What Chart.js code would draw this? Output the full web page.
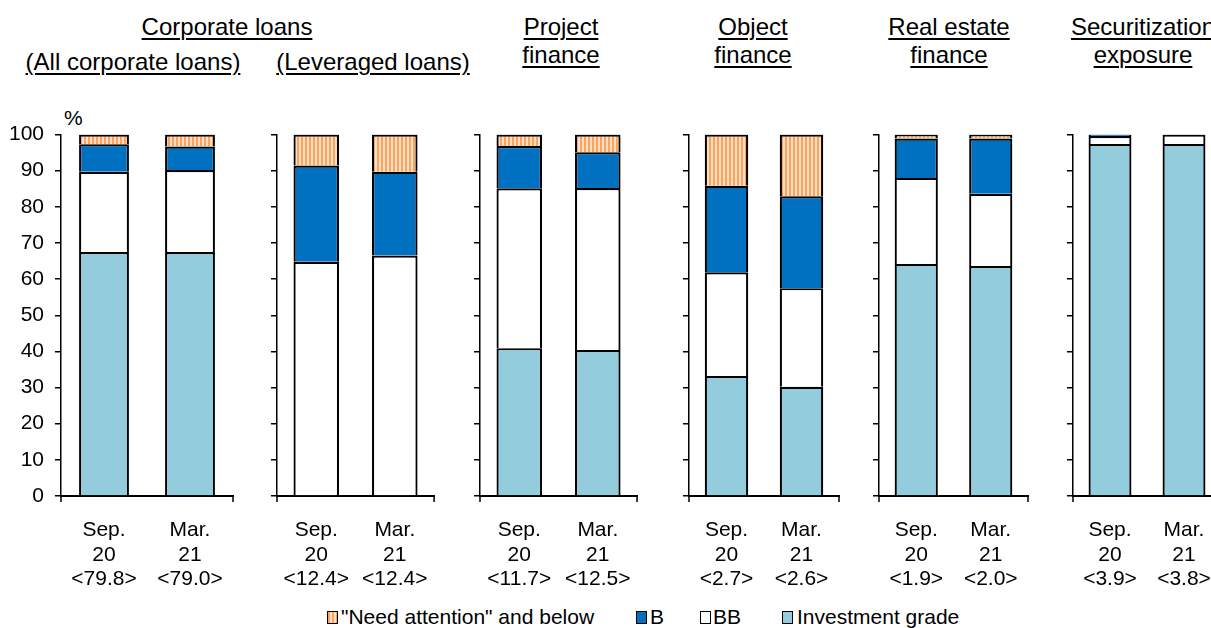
<!DOCTYPE html>
<html><head><meta charset="utf-8">
<script src="https://cdn.jsdelivr.net/npm/chart.js@4/dist/chart.umd.min.js"></script>
<style>
html,body{margin:0;padding:0;background:#fff;}
body{width:1211px;height:628px;overflow:hidden;position:relative;font-family:"Liberation Sans",Arial,sans-serif;color:#000;}
canvas.cv{position:absolute;}
.t{position:absolute;font-size:24px;line-height:28px;text-decoration:underline;text-decoration-thickness:2px;text-underline-offset:3px;white-space:nowrap;text-align:center;transform:translateX(-50%);}
.pct{position:absolute;font-size:21px;left:64px;top:106px;}
.lg{position:absolute;top:605px;height:24px;font-size:21px;line-height:24px;white-space:nowrap;}
.lgb{position:absolute;top:611px;width:9px;height:11px;border:1.5px solid #000;}
</style>
</head><body>
<div class="t" style="left:227px;top:13px">Corporate loans</div>
<div class="t" style="left:133px;top:48px">(All corporate loans)</div>
<div class="t" style="left:373px;top:48px">(Leveraged loans)</div>
<div class="t" style="left:561px;top:13px">Project<br>finance</div>
<div class="t" style="left:753px;top:13px">Object<br>finance</div>
<div class="t" style="left:949px;top:13px">Real estate<br>finance</div>
<div class="t" style="left:1143px;top:13px">Securitization<br>exposure</div>
<div class="pct">%</div>
<div id="legend"></div>
<script>
// ---- data ----
const periods = [['Sep.', '20'], ['Mar.', '21']];
const totals = [['79.8', '79.0'], ['12.4', '12.4'], ['11.7', '12.5'], ['2.7', '2.6'], ['1.9', '2.0'], ['3.9', '3.8']];
const investmentGrade = [[67.5, 67.5], [0, 0], [40.9, 40.4], [33.2, 30.2], [64.2, 63.6], [97.4, 97.4]];
const gradeBB = [[22.2, 22.7], [64.8, 66.5], [44.2, 44.8], [28.7, 27.3], [23.8, 20.0], [2.2, 2.6]];
const gradeB = [[7.6, 6.5], [26.6, 23.2], [11.7, 9.9], [23.9, 25.4], [10.9, 15.3], [0.4, 0]];
const needAttention = [[2.7, 3.3], [8.6, 10.3], [3.2, 4.9], [14.2, 17.1], [1.1, 1.1], [0, 0]];
const seriesNames = ['"Need attention" and below', 'B', 'BB', 'Investment grade'];
const yMin = 0, yMax = 100, yStep = 10;

// ---- layout (panel axis positions) ----
const axisLeft = [61, 277, 480, 689, 879, 1073];
const axisRight = [233, 437, 640, 839, 1028, 1221];
const FONT = '"Liberation Sans", Arial, sans-serif';

function stripePattern() {
  const c = document.createElement('canvas'); c.width = 4; c.height = 4;
  const g = c.getContext('2d');
  g.fillStyle = '#FDDEC0'; g.fillRect(0, 0, 4, 4);
  g.fillStyle = '#F9A460'; g.fillRect(0, 0, 2, 4);
  return g.createPattern(c, 'repeat');
}
const colNA = stripePattern();
const colors = [colNA, '#0070C0', '#FFFFFF', '#93CDDD'];

const endTicks = {
  id: 'endTicks',
  afterDraw(chart) {
    const { ctx, chartArea: a } = chart;
    ctx.save();
    ctx.strokeStyle = '#000'; ctx.lineWidth = 1.5;
    ctx.beginPath();
    ctx.moveTo(a.left, a.bottom); ctx.lineTo(a.left, a.bottom + 6);
    ctx.moveTo(a.right, a.bottom); ctx.lineTo(a.right, a.bottom + 6);
    ctx.stroke();
    ctx.restore();
  }
};

const TOP = 100, H = 500, PT = 34.5, XH = 104;
for (let i = 0; i < 6; i++) {
  const yw = i === 0 ? 61 : 12;
  const left = axisLeft[i] - yw;
  const PR = 6;
  const w = axisRight[i] - left + PR;
  const cv = document.createElement('canvas');
  cv.className = 'cv';
  cv.width = w; cv.height = H;
  cv.style.left = left + 'px'; cv.style.top = TOP + 'px';
  cv.style.width = w + 'px'; cv.style.height = H + 'px';
  document.body.appendChild(cv);
  const labels = periods.map((p, j) => [p[0], p[1], '<' + totals[i][j] + '>']);
  new Chart(cv, {
    type: 'bar',
    data: {
      labels,
      datasets: [
        { label: seriesNames[3], data: investmentGrade[i], backgroundColor: colors[3] },
        { label: seriesNames[2], data: gradeBB[i], backgroundColor: colors[2] },
        { label: seriesNames[1], data: gradeB[i], backgroundColor: colors[1] },
        { label: seriesNames[0], data: needAttention[i], backgroundColor: colors[0] }
      ]
    },
    options: {
      responsive: false, animation: false, devicePixelRatio: 1,
      layout: { padding: { top: PT, right: PR, left: 0, bottom: 0 }, autoPadding: false },
      plugins: { legend: { display: false }, tooltip: { enabled: false } },
      datasets: { bar: { barPercentage: 0.58, categoryPercentage: 1, borderColor: '#000', borderWidth: 2.2 } },
      scales: {
        x: {
          stacked: true, offset: true,
          grid: { display: false },
          border: { display: true, color: '#000', width: 2 },
          ticks: { color: '#000', font: { size: 21, family: FONT, lineHeight: 1.17 }, padding: 14, maxRotation: 0, autoSkip: false },
          afterFit: s => { s.height = XH; }
        },
        y: {
          stacked: true, min: yMin, max: yMax,
          ticks: { stepSize: yStep, display: i === 0, color: '#000', font: { size: 21, family: FONT }, padding: 11 },
          grid: { drawOnChartArea: false, drawTicks: true, tickLength: 6, color: '#000', lineWidth: 1.5 },
          border: { display: true, color: '#000', width: 1.5 },
          afterFit: s => { s.width = yw; }
        }
      }
    },
    plugins: [endTicks]
  });
}

// ---- legend ----
const legendBoxX = [327, 636, 700, 782];
const legendTextX = [341, 650, 713, 797];
const legendCss = ['repeating-linear-gradient(90deg,#F9A460 0 2px,#FDDEC0 2px 4px)', '#0070C0', '#FFFFFF', '#93CDDD'];
const lg = document.getElementById('legend');
seriesNames.forEach((n, k) => {
  const b = document.createElement('div'); b.className = 'lgb';
  b.style.left = legendBoxX[k] + 'px'; b.style.background = legendCss[k];
  lg.appendChild(b);
  const t = document.createElement('div'); t.className = 'lg';
  t.style.left = legendTextX[k] + 'px'; t.textContent = n;
  lg.appendChild(t);
});
</script>
</body></html>
